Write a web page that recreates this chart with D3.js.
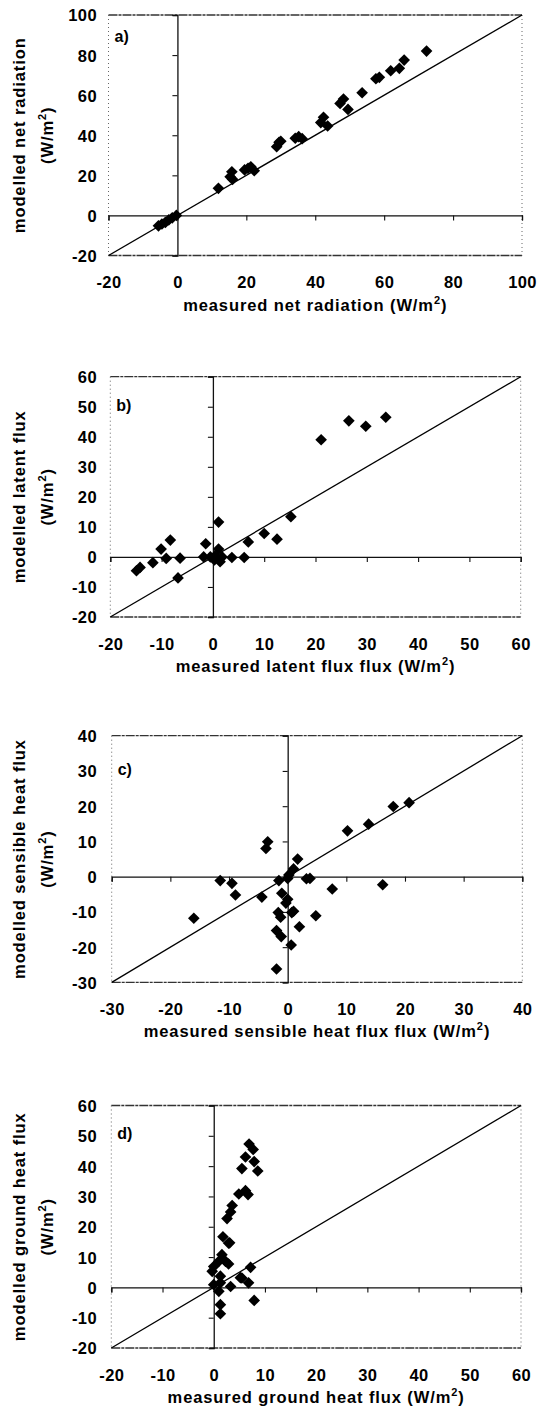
<!DOCTYPE html>
<html>
<head>
<meta charset="utf-8">
<script src="https://cdn.jsdelivr.net/npm/d3@7"></script>
<style>
  html, body { margin: 0; padding: 0; background: #fff; }
  svg { display: block; }
  text { font-family: "Liberation Sans", Arial, sans-serif; fill: #000; }
</style>
</head>
<body>
<svg id="chart" width="539" height="1414"></svg>
<script>
// ---------------- data ----------------
// panel a: net radiation  [measured, modelled]
const netRadiation = [
  [-5.5,-5.2],[-4.5,-4.3],[-3.5,-3.5],[-2.5,-2.2],[-1.5,-1.2],[-0.3,0],
  [11.9,13.5],[15.3,19.3],[16,18],[15.8,21.8],[19.5,22.7],[20.5,23.5],[21.3,24.3],[22.3,22.3],
  [28.8,34.3],[29.5,36.5],[30,37],[34.2,38.5],[35.2,39.3],[36.2,38.3],
  [41.6,46.3],[42.4,49],[43.6,44.6],[47.2,55.9],[48.2,58.1],[49.5,52.9],[53.6,61.2],
  [57.6,68.2],[58.6,68.9],[61.9,72.2],[64.4,73.4],[65.8,77.5],[72.3,82]
];
// panel b: latent flux
const latentFlux = [
  [-14.9,-4.6],[-14.2,-3.5],[-11.7,-1.9],[-10.1,2.6],[-8.3,5.6],[-9.1,-0.5],[-6.4,-0.4],
  [-6.8,-7.0],[-1.4,4.4],[1.1,11.6],[1.1,2.6],[-1.8,0],[-0.5,0],[0.4,0.3],[1.8,0],
  [3.7,-0.2],[1.4,-1.6],[0.3,-1.0],[6.1,-0.2],[6.9,5.0],[10,7.8],[12.5,5.9],[15.2,13.4],
  [21.1,39.0],[26.5,45.3],[29.8,43.5],[33.7,46.5]
];
// panel c: sensible heat flux
const sensibleFlux = [
  [-16,-11.8],[-11.5,-1.1],[-9.5,-1.9],[-8.9,-5.2],[-4.4,-5.8],[-3.4,9.9],[-3.7,8.0],
  [-1.5,-1.1],[-1.0,-4.7],[0,-6.4],[-0.3,-7.5],[-1.6,-10.2],[-1.2,-11.5],[0.7,-10.2],
  [1.0,-9.8],[0,-0.5],[0.2,0.5],[1.0,2.2],[1.7,5.0],[3.2,-0.6],[3.8,-0.5],[4.8,-11.1],
  [2.0,-14.2],[-1.9,-15.3],[-1.1,-17.0],[0.6,-19.4],[-1.9,-26.2],[7.6,-3.5],[16.2,-2.3],
  [10.2,13.0],[13.8,14.9],[18.0,19.9],[20.7,21.0]
];
// panel d: ground heat flux
const groundFlux = [
  [6.9,47.3],[7.7,45.5],[6.2,43.0],[7.9,41.5],[8.6,38.4],[5.5,39.2],[6.2,31.9],[4.9,30.8],
  [6.7,30.6],[3.6,27.0],[3.3,24.9],[2.6,22.7],[1.8,16.7],[2.9,14.6],[3.1,14.7],[1.6,10.8],
  [1.0,8.6],[2.3,8.6],[0,6.9],[-0.3,5.3],[2.9,7.7],[7.2,6.6],[5.5,3.1],[6.8,1.5],[0,0.9],
  [1.3,1.5],[3.3,0.3],[1.0,-1.3],[7.9,-4.3],[1.3,-5.7],[1.3,-8.7],[1.3,3.7],[5.2,3.2]
];

const ticksA = [-20, 0, 20, 40, 60, 80, 100];
const ticksB = [-20, -10, 0, 10, 20, 30, 40, 50, 60];
const ticksC = [-30, -20, -10, 0, 10, 20, 30, 40];
const ticksD = [-20, -10, 0, 10, 20, 30, 40, 50, 60];

const panelLetters = ["a)", "b)", "c)", "d)"];
const xTitles = ["measured net radiation", "measured latent flux flux",
                 "measured sensible heat flux flux", "measured ground heat flux"];
const yTitles = ["modelled net radiation", "modelled latent flux",
                 "modelled sensible heat flux", "modelled ground heat flux"];

// ---------------- layout (pixels) ----------------
const layout = [
  { l: 108.5, r: 522.0, t: 15.0,   b: 255.5, letterY: 42 },
  { l: 110.3, r: 520.7, t: 376.7,  b: 617.0, letterY: 411 },
  { l: 111.7, r: 522.3, t: 735.7,  b: 982.4, letterY: 775 },
  { l: 111.3, r: 521.0, t: 1105.5, b: 1348.0, letterY: 1139 }
];
const datasets = [netRadiation, latentFlux, sensibleFlux, groundFlux];
const tickSets = [ticksA, ticksB, ticksC, ticksD];

const svg = d3.select("#chart");
const fmt = d => String(d);   // plain hyphen-minus as in the figure

function addUnit(sel) {
  sel.append("tspan").text(" (W/m");
  sel.append("tspan").attr("dy", -7).attr("font-size", 11).text("2");
  sel.append("tspan").attr("dy", 7).text(")");
}

datasets.forEach((data, i) => {
  const L = layout[i];
  const ticks = tickSets[i];
  const dom = [ticks[0], ticks[ticks.length - 1]];
  const x = d3.scaleLinear().domain(dom).range([L.l, L.r]);
  const y = d3.scaleLinear().domain(dom).range([L.b, L.t]);
  const g = svg.append("g");

  // frame: dashed top/bottom, dotted sides
  g.append("line").attr("x1", L.l).attr("x2", L.r).attr("y1", L.t).attr("y2", L.t)
    .attr("stroke", "#333").attr("stroke-width", 1.3).attr("stroke-dasharray", "9 1 3 1");
  g.append("line").attr("x1", L.l).attr("x2", L.r).attr("y1", L.b).attr("y2", L.b)
    .attr("stroke", "#333").attr("stroke-width", 1.3).attr("stroke-dasharray", "9 1 3 1");
  [L.l, L.r].forEach(px => {
    g.append("line").attr("x1", px).attr("x2", px).attr("y1", L.t).attr("y2", L.b)
      .attr("stroke", "#666").attr("stroke-width", 1).attr("stroke-dasharray", "1 3");
  });

  // axis lines through zero with ticks
  const xAxisZero = d3.axisBottom(x).tickValues(ticks).tickSize(5).tickFormat("");
  const yAxisZero = d3.axisLeft(y).tickValues(ticks).tickSize(5).tickFormat("");
  const gx0 = g.append("g").attr("transform", `translate(0,${y(0)})`).call(xAxisZero);
  const gy0 = g.append("g").attr("transform", `translate(${x(0)},0)`).call(yAxisZero);
  [gx0, gy0].forEach(a => {
    a.select(".domain").attr("stroke", "#111").attr("stroke-width", 1.3);
    a.selectAll(".tick line").attr("stroke", "#111").attr("stroke-width", 1.1);
  });

  // tick labels at the frame edges
  const xLab = d3.axisBottom(x).tickValues(ticks).tickSize(0).tickPadding(21).tickFormat(fmt);
  const yLab = d3.axisLeft(y).tickValues(ticks).tickSize(0).tickPadding(L.l - 97).tickFormat(fmt);
  const gxl = g.append("g").attr("transform", `translate(0,${L.b})`).call(xLab);
  const gyl = g.append("g").attr("transform", `translate(${L.l},0)`).call(yLab);
  [gxl, gyl].forEach(a => {
    a.select(".domain").remove();
    a.selectAll("text").attr("font-size", 16.5).attr("font-weight", "bold")
      .attr("font-family", "Liberation Sans, Arial, sans-serif")
      .attr("letter-spacing", 0.4).attr("fill", "#000");
  });
  gyl.selectAll("text").attr("dy", "0.36em");

  // 1:1 line
  g.append("line")
    .attr("x1", x(dom[0])).attr("y1", y(dom[0]))
    .attr("x2", x(dom[1])).attr("y2", y(dom[1]))
    .attr("stroke", "#000").attr("stroke-width", 1.3);

  // diamonds
  const sym = d3.symbol().type(d3.symbolSquare).size(68);
  g.selectAll("path.pt").data(data).join("path")
    .attr("class", "pt")
    .attr("d", sym)
    .attr("transform", d => `translate(${x(d[0])},${y(d[1])}) rotate(45)`)
    .attr("fill", "#000");

  // panel letter
  g.append("text").attr("x", L.l + 6).attr("y", L.letterY)
    .attr("font-size", 16).attr("font-weight", "bold").text(panelLetters[i]);

  // x title
  const xt = g.append("text").attr("x", (L.l + L.r) / 2).attr("y", L.b + 55)
    .attr("text-anchor", "middle").attr("font-size", 16.5).attr("font-weight", "bold")
    .attr("letter-spacing", 0.9).text(xTitles[i]);
  addUnit(xt);

  // y title (two lines)
  const cy = (L.t + L.b) / 2;
  g.append("text").attr("transform", `translate(25,${cy}) rotate(-90)`)
    .attr("text-anchor", "middle").attr("font-size", 16.5).attr("font-weight", "bold")
    .attr("letter-spacing", 0.9).text(yTitles[i]);
  const yt2 = g.append("text").attr("transform", `translate(53,${cy}) rotate(-90)`)
    .attr("text-anchor", "middle").attr("font-size", 16.5).attr("font-weight", "bold")
    .attr("letter-spacing", 0.9);
  yt2.append("tspan").text("(W/m");
  yt2.append("tspan").attr("dy", -7).attr("font-size", 11).text("2");
  yt2.append("tspan").attr("dy", 7).text(")");
});
</script>
</body>
</html>
